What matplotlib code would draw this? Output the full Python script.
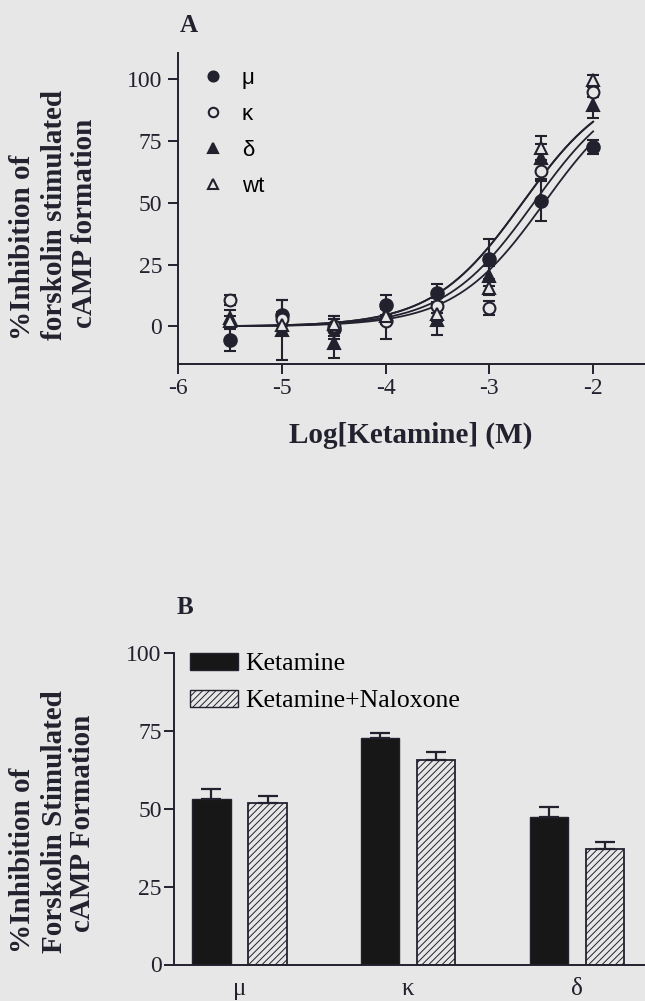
import numpy as np
import matplotlib
matplotlib.use("Agg")
import matplotlib.pyplot as plt
from matplotlib.lines import Line2D
from matplotlib.patches import Patch

# ---- panel A: concentration-response ----
log_conc = [-5.5, -5.0, -4.5, -4.0, -3.5, -3.0, -2.5, -2.0]
mu_mean = [-5.5, 4.7, -1.0, 8.7, 13.5, 27.3, 50.7, 72.5]
mu_err = [4.4, 6.0, 4.0, 4.0, 3.5, 8.0, 8.0, 3.0]
kappa_mean = [10.7, 3.0, 0.2, 2.0, 8.3, 7.4, 62.7, 94.6]
kappa_err = [2.0, 3.0, 4.0, 7.0, 3.0, 3.0, 3.0, 2.0]
delta_mean = [3.5, -1.4, -6.8, 5.0, 2.6, 20.2, 68.1, 89.3]
delta_err = [3.0, 12.0, 6.0, 3.0, 6.0, 4.0, 5.5, 5.0]
wt_mean = [2.0, 0.5, 1.0, 4.0, 5.0, 15.5, 72.1, 99.6]
wt_err = [2.0, 2.0, 3.0, 3.0, 3.0, 3.0, 5.0, 2.0]
series_labels = ["\u03bc", "\u03ba", "\u03b4", "wt"]

# sigmoid fit parameters (bottom 0, top 100, hill slope 1)
fit_log_ec50 = [-2.47, -2.68, -2.57, -2.68]
fit_top = 100.0
fit_hill = 1.0

# ---- panel B: naloxone block ----
receptors = ["\u03bc", "\u03ba", "\u03b4"]
ketamine = [53.0, 72.8, 47.5]
ketamine_err = [3.2, 1.6, 3.0]
ket_nalox = [52.0, 65.8, 37.0]
ket_nalox_err = [2.0, 2.5, 2.4]
bar_labels = ["Ketamine", "Ketamine+Naloxone"]

BG = "#e7e7e7"
INK = "#22212e"

plt.rcParams["font.family"] = "serif"
plt.rcParams["font.serif"] = ["Liberation Serif", "DejaVu Serif"]
plt.rcParams["hatch.linewidth"] = 0.7
plt.rcParams["hatch.color"] = "#4a4a55"

W, H = 645, 1001
fig = plt.figure(figsize=(W / 100, H / 100), dpi=100, facecolor=BG)


def frac(x0, y0, x1, y1):
    # pixel box (top-left origin) -> figure fraction rect
    return [x0 / W, 1 - y1 / H, (x1 - x0) / W, (y1 - y0) / H]


# ================= panel A =================
axA = fig.add_axes(frac(178, 52.7, 645, 363.5))
axA.set_facecolor(BG)
axA.set_xlim(-6, -1.5)
axA.set_ylim(-15, 110.6)

xs = np.linspace(-5.5, -2, 200)
for ec in fit_log_ec50:
    ys = fit_top / (1 + 10 ** ((ec - xs) * fit_hill))
    axA.plot(xs, ys, color=INK, lw=1.3, zorder=2)

styles = [
    dict(marker="o", mfc=INK, ms=9),
    dict(marker="o", mfc=BG, ms=8.5),
    dict(marker="^", mfc=INK, ms=9),
    dict(marker="^", mfc=BG, ms=9),
]
means = [mu_mean, kappa_mean, delta_mean, wt_mean]
errs = [mu_err, kappa_err, delta_err, wt_err]
for m, e, st in zip(means, errs, styles):
    axA.errorbar(log_conc, m, yerr=e, fmt=st["marker"], ms=st["ms"],
                 mfc=st["mfc"], mec=INK, mew=1.5, ecolor=INK,
                 elinewidth=1.5, capsize=4, capthick=1.5, zorder=3)

handles = [Line2D([], [], ls="none", marker=st["marker"], ms=st["ms"] * 0.8,
                  mfc=st["mfc"], mec=INK, mew=1.5) for st in styles]
axA.legend(handles, series_labels, loc="upper left",
           bbox_to_anchor=(0.0512, 0.951), frameon=False, borderpad=0,
           borderaxespad=0, handlelength=1.0, handletextpad=0.8,
           labelspacing=0.68,
           prop={"family": "Liberation Sans", "size": 16})

axA.set_xticks([-6, -5, -4, -3, -2])
axA.set_xticklabels(["-6", "-5", "-4", "-3", "-2"])
axA.set_yticks([0, 25, 50, 75, 100])
for s in ["top", "right"]:
    axA.spines[s].set_visible(False)
for s in ["left", "bottom"]:
    axA.spines[s].set_linewidth(1.4)
    axA.spines[s].set_color(INK)
axA.tick_params(direction="out", length=7.5, width=1.4, color=INK,
                labelsize=17, labelcolor=INK)
axA.tick_params(axis="x", pad=3)
axA.tick_params(axis="y", pad=4)

fig.text(411 / W, 1 - 435 / H, "Log[Ketamine] (M)", ha="center",
         va="center", fontsize=21, fontweight="bold", color=INK)
fig.text(189 / W, 1 - 25 / H, "A", ha="center", va="center",
         fontsize=18, fontweight="bold", color=INK)

ylab_a = ["%Inhibition of", "forskolin stimulated", "cAMP formation"]
for txt, xc, yb in zip(ylab_a, [23, 55, 85], [340, 340, 328]):
    fig.text(xc / W, 1 - yb / H, txt, rotation=90, ha="center", va="bottom",
             fontsize=21, fontweight="bold", color=INK)

# ================= panel B =================
axB = fig.add_axes(frac(173.5, 653, 645, 964.5))
axB.set_facecolor(BG)
xpos = np.arange(len(receptors))
bw = 0.228
off = 0.1666
axB.set_xlim(-0.391, 2.404)
axB.set_ylim(0, 100)

axB.bar(xpos - off, ketamine, bw, color="#171717", edgecolor=INK, lw=1.0,
        yerr=[np.zeros(3), ketamine_err], capsize=7,
        error_kw=dict(elinewidth=1.6, capthick=1.6, ecolor=INK), zorder=2)
axB.bar(xpos + off, ket_nalox, bw, color=BG, edgecolor=INK, lw=1.3,
        hatch="/////", yerr=[np.zeros(3), ket_nalox_err], capsize=7,
        error_kw=dict(elinewidth=1.6, capthick=1.6, ecolor=INK), zorder=2)

leg_handles = [Patch(facecolor="#171717", edgecolor=INK, lw=1.0),
               Patch(facecolor=BG, edgecolor=INK, lw=1.0, hatch="/////")]
axB.legend(leg_handles, bar_labels, loc="upper left",
           bbox_to_anchor=(0.036, 1.0), frameon=False, borderpad=0,
           borderaxespad=0, handlelength=1.85, handleheight=0.62,
           handletextpad=0.3, labelspacing=0.57, fontsize=18.5)

axB.set_xticks(xpos)
axB.set_xticklabels(receptors, fontsize=18)
axB.set_yticks([0, 25, 50, 75, 100])
for s in ["top", "right"]:
    axB.spines[s].set_visible(False)
for s in ["left", "bottom"]:
    axB.spines[s].set_linewidth(1.4)
    axB.spines[s].set_color(INK)
axB.tick_params(axis="y", direction="out", length=7.5, width=1.4, color=INK,
                labelsize=17, labelcolor=INK, pad=1)
axB.tick_params(axis="x", length=0, pad=10, labelcolor=INK)

fig.text(185 / W, 1 - 608 / H, "B", ha="center", va="center",
         fontsize=18, fontweight="bold", color=INK)

ylab_b = ["%Inhibition of", "Forskolin Stimulated", "cAMP Formation"]
for txt, xc, yb in zip(ylab_b, [23, 55, 83], [953, 953, 932]):
    fig.text(xc / W, 1 - yb / H, txt, rotation=90, ha="center", va="bottom",
             fontsize=21, fontweight="bold", color=INK)

fig.savefig("out.png", dpi=100, facecolor=BG)
